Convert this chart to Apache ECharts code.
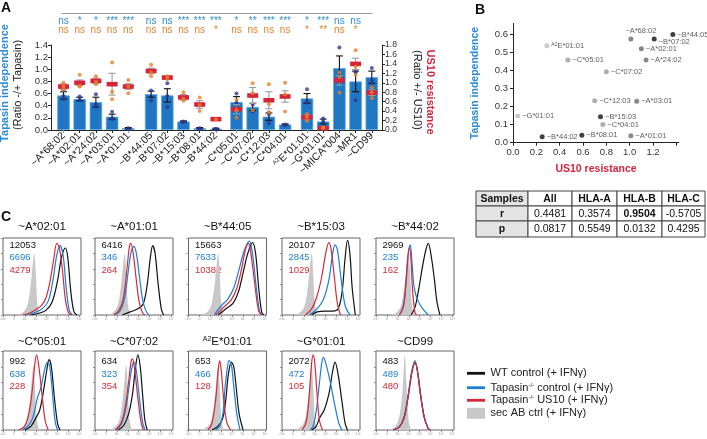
<!DOCTYPE html>
<html><head><meta charset="utf-8">
<script src="https://cdn.jsdelivr.net/npm/echarts@6/dist/echarts.min.js"></script>
<style>html,body{margin:0;padding:0;background:#fff}#c{width:707px;height:439px}</style>
</head><body><div id="c"></div>
<script>
// ---------------- DATA ----------------
// Panel A
const categories = ['~A*68:02','~A*02:01','~A*24:02','~A*03:01','~A*01:01',
  '~B*44:05','~B*07:02','~B*15:03','~B*08:01','~B*44:02',
  '~C*05:01','~C*07:02','~C*12:03','~C*04:01',
  'A2E*01:01','~G*01:01','~MICA*004','~MR1','~CD99'];
const groupSizes = [5,5,4,5];
const tapMean = [0.57,0.51,0.46,0.22,0.03, 0.59,0.57,0.14,0.03,0.02, 0.46,0.38,0.22,0.09, 0.52,0.14,1.02,0.80,0.87];
const tapSem  = [0.06,0.03,0.08,0.04,0.01, 0.05,0.11,0.01,0.01,0.01, 0.09,0.06,0.06,0.01, 0.08,0.04,0.20,0.17,0.10];
const tapPoints = [[0.66,0.51,0.56],[0.55,0.50],[0.59,0.38,0.42],[0.30,0.19,0.18],[0.03,0.02],
  [0.65,0.48],[0.77,0.38,0.56],[0.14,0.13],[0.03,0.02],[0.02,0.01],
  [0.60,0.45,0.35],[0.42,0.30],[0.29,0.11,0.26],[0.09,0.08],
  [0.67,0.47,0.45],[0.19,0.14],[1.36,0.88,0.80],[0.95,0.49,0.96],[1.02,0.77,0.82]];
const usMean = [0.92,1.00,1.04,0.97,0.92, 1.25,1.11,0.69,0.54,0.23, 0.44,0.73,0.63,0.71, 0.27,0.04,1.05,1.40,0.79];
const usSem  = [0.06,0.06,0.06,0.23,0.06, 0.06,0.04,0.06,0.08,0.02, 0.10,0.17,0.18,0.12, 0.05,0.03,0.10,0.12,0.06];
const usPoints = [[1.00,0.85,0.92],[1.17,0.92,0.93],[1.14,0.97,1.02],[1.43,0.81,0.65],[1.06,0.78,0.92],
  [1.38,1.14,1.22],[1.14,1.08],[0.80,0.62,0.66],[0.69,0.40,0.53],[0.23],
  [0.64,0.26,0.42],[0.99,0.42,0.78],[0.97,0.37,0.55],[1.00,0.39,0.75],
  [0.34,0.19,0.28],[0.04,0.05],[1.22,0.79,1.12],[1.69,1.17,1.34],[0.90,0.67,0.80]];
const sigTap = ['ns','*','*','***','***','ns','ns','***','***','***','*','**','***','***','*','***','ns','ns',''];
const sigUs  = ['ns','ns','ns','ns','ns','ns','ns','ns','ns','*','ns','ns','ns','ns','*','**','ns','*',''];
const yTicksLeft = [0,0.2,0.4,0.6,0.8,1.0,1.2,1.4];
const yTicksRight = [0,0.2,0.4,0.6,0.8,1.0,1.2,1.4,1.6,1.8];

// Panel B
const scNames = ['~A*68:02','~B*44:05','~B*07:02','~A*02:01','~A*24:02','A2E*01:01','~C*05:01','~C*07:02',
  '~C*12:03','~A*03:01','~G*01:01','~B*15:03','~C*04:01','~B*44:02','~B*08:01','~A*01:01'];
const scUS10 = [1.01,1.37,1.21,1.10,1.14,0.29,0.47,0.80,0.70,1.06,0.04,0.75,0.77,0.25,0.59,1.01];
const scTap  = [0.574,0.598,0.574,0.52,0.458,0.537,0.458,0.393,0.232,0.229,0.148,0.144,0.10,0.033,0.041,0.039];
const scLocus = ['A','B','B','A','A','EG','C','C','C','A','EG','B','C','B','B','A'];

// Correlation table
const tableHeader = ['Samples','All','HLA-A','HLA-B','HLA-C'];
const tableR = ['r','0.4481','0.3574','0.9504','-0.5705'];
const tableP = ['p','0.0817','0.5549','0.0132','0.4295'];

// Panel C
const histTitles = ['~A*02:01','~A*01:01','~B*44:05','~B*15:03','~B*44:02',
  '~C*05:01','~C*07:02','A2E*01:01','~G*01:01','~CD99'];
const histMFI = [[12053,6696,4279],[6416,346,264],[15663,7633,10382],[20107,2845,1029],[2969,235,162],
  [992,638,228],[634,323,354],[653,466,128],[2072,472,105],[483,489,480]];
const histLogLabels = ['-10\u00b2','0','10\u00b2','10\u00b3','10\u2074','10\u2075','10\u2076','10\u2077'];
const histSecAb = [
 [[18,0],[26,4],[31,12],[35,35],[38,65],[40,80],[42,55],[44,15],[47,0]],
 [[16,0],[24,4],[29,12],[33,35],[36,65],[38,80],[40,55],[42,15],[45,0]],
 [[16,0],[24,4],[29,12],[33,35],[36,65],[38,80],[40,55],[42,15],[45,0]],
 [[16,0],[24,4],[29,12],[33,35],[36,65],[38,80],[40,55],[42,15],[45,0]],
 [[20,0],[27,4],[32,12],[36,35],[39,60],[42,75],[44,50],[46,12],[49,0]],
 [[17,0],[25,4],[30,12],[34,35],[37,65],[39,82],[41,55],[43,15],[46,0]],
 [[18,0],[26,4],[31,12],[35,35],[38,65],[40,82],[42,55],[44,15],[47,0]],
 [[16,0],[24,4],[29,12],[33,35],[36,65],[38,82],[40,55],[42,15],[45,0]],
 [[16,0],[24,4],[29,12],[33,35],[36,65],[38,82],[40,55],[42,15],[45,0]],
 [[18,0],[25,5],[30,18],[34,50],[36,85],[37,95],[39,60],[42,10],[45,0]]];
const histTapUS10 = [
 [[25,0],[35,3],[45,9],[50,13],[55,22],[60,42],[65,72],[69,93],[72,88],[76,60],[80,20],[84,3],[88,0]],
 [[24,0],[30,5],[36,20],[41,60],[44,88],[46,93],[49,80],[53,45],[57,15],[61,3],[64,0]],
 [[35,0],[45,10],[55,20],[62,35],[68,60],[73,85],[77,93],[80,80],[85,40],[90,5],[94,0]],
 [[30,0],[38,8],[45,25],[51,50],[56,80],[60,94],[63,85],[67,50],[71,15],[75,0]],
 [[30,0],[35,10],[38,35],[41,75],[43,88],[45,70],[47,30],[50,3],[52,0]],
 [[20,0],[28,5],[34,25],[38,55],[41,85],[43,95],[46,80],[50,45],[54,12],[58,0]],
 [[26,0],[33,8],[38,25],[43,60],[46,85],[48,90],[51,75],[55,40],[59,10],[62,0]],
 [[25,0],[30,8],[35,40],[38,75],[40,88],[42,75],[45,40],[49,10],[54,0]],
 [[26,0],[31,10],[35,45],[38,85],[40,95],[42,85],[45,45],[48,12],[52,0]],
 [[22,0],[30,4],[36,15],[41,40],[46,72],[50,86],[53,75],[57,45],[62,15],[67,2],[70,0]]];
const histTapCtrl = [
 [[30,0],[40,3],[50,8],[58,18],[64,45],[69,78],[73,90],[77,78],[81,35],[85,6],[89,0]],
 [[25,0],[32,5],[38,22],[43,60],[47,85],[50,89],[53,80],[57,50],[61,20],[65,6],[69,0]],
 [[33,0],[42,12],[50,20],[58,35],[65,60],[72,85],[78,96],[82,80],[87,35],[91,5],[94,0]],
 [[35,0],[45,8],[53,20],[60,45],[65,80],[68,91],[71,85],[76,45],[81,12],[87,0]],
 [[30,0],[35,12],[38,38],[41,78],[44,91],[46,70],[49,35],[54,18],[60,8],[67,0]],
 [[25,0],[32,5],[38,15],[44,40],[49,55],[53,75],[57,86],[60,80],[64,40],[67,10],[70,0]],
 [[27,0],[34,8],[40,30],[45,65],[48,82],[50,86],[53,75],[57,40],[61,10],[64,0]],
 [[35,0],[40,5],[44,20],[47,55],[50,80],[52,88],[55,82],[58,55],[62,20],[66,0]],
 [[36,0],[40,5],[44,25],[48,60],[51,85],[53,92],[56,85],[62,60],[68,30],[73,8],[77,0]],
 [[22,0],[30,4],[36,15],[41,42],[46,75],[50,88],[53,75],[57,45],[62,15],[67,2],[70,0]]];
const histWT = [
 [[35,0],[45,2],[55,6],[63,17],[70,45],[75,75],[80,87],[83,75],[87,30],[91,4],[95,0]],
 [[35,0],[45,4],[55,8],[62,15],[67,40],[71,75],[74,90],[77,80],[81,40],[85,8],[88,0]],
 [[38,0],[48,8],[57,15],[64,30],[70,55],[76,80],[82,94],[86,80],[90,35],[94,3],[97,0]],
 [[38,0],[45,4],[55,5],[65,5],[72,8],[77,30],[81,75],[84,97],[87,80],[90,35],[94,0]],
 [[45,0],[50,10],[55,35],[60,65],[64,85],[67,93],[71,75],[75,45],[78,18],[82,0]],
 [[28,0],[36,5],[42,15],[47,25],[52,50],[56,75],[59,89],[62,80],[66,40],[70,8],[73,0]],
 [[30,0],[37,6],[43,20],[48,45],[52,80],[55,95],[58,80],[61,45],[64,12],[67,0]],
 [[30,0],[38,5],[44,15],[48,40],[51,70],[55,86],[58,80],[61,55],[65,20],[70,0]],
 [[38,0],[44,5],[48,15],[54,25],[60,45],[65,75],[68,86],[72,70],[77,35],[81,8],[84,0]],
 [[22,0],[30,4],[36,16],[41,42],[46,74],[50,85],[53,76],[57,46],[62,16],[67,2],[70,0]]];
const legendNames = ['WT control (+ IFN\u03b3)','Tapasin-/- control (+ IFN\u03b3)','Tapasin-/- US10 (+ IFN\u03b3)','sec AB ctrl (+ IFN\u03b3)'];

// ---------------- STYLE ----------------
const FONT = '"Liberation Sans", Arial, Helvetica, sans-serif';
const C_BAR = '#1f76c2', C_BAR_EDGE = '#5ea6e3', C_DOT_BLUE = '#2c3793', C_RED = '#d6253b',
      C_ORANGE = '#e5822c', C_SIGBLUE = '#2f8fd6', C_TEXTBLUE = '#2a8bd4', C_GREYERR = '#9b9b9b';
const C_WT = '#111111', C_CTRL = '#1c7ed6', C_US10 = '#d42a3c', C_SEC = '#c8c8c8';

const grids = [], xAxes = [], yAxes = [], series = [], elements = [];

function labelFmt(v) {
  if (v.indexOf('A2E') === 0) return '{sup|A2}{n|' + v.slice(2) + '}';
  return '{n|' + v + '}';
}

// ---- Panel A frame grid (index 0) ----
grids.push({left:51, top:45, width:331, height:85, outerBoundsMode:'none'});
xAxes.push({gridIndex:0, type:'value', min:0, max:1, axisLine:{show:true, lineStyle:{color:'#222', width:1}},
  axisTick:{show:false}, axisLabel:{show:false}, splitLine:{show:false}});
const axCommon = {axisLine:{show:true, lineStyle:{color:'#222', width:1}}, axisTick:{show:true, length:3, lineStyle:{color:'#222'}},
  splitLine:{show:false}};
yAxes.push(Object.assign({gridIndex:0, type:'value', min:yTicksLeft[0], max:yTicksLeft[yTicksLeft.length-1], interval:0.2, position:'left',
  axisLabel:{fontSize:9.5, color:'#333', margin:3, showMinLabel:true, showMaxLabel:true, hideOverlap:false, formatter:v=>v.toFixed(1)}}, axCommon));
yAxes.push(Object.assign({gridIndex:0, type:'value', min:yTicksRight[0], max:yTicksRight[yTicksRight.length-1], interval:0.2, position:'right',
  axisLabel:{fontSize:8.6, lineHeight:8, color:'#333', margin:3, showMinLabel:true, showMaxLabel:true, hideOverlap:false, formatter:v=>v.toFixed(1)}}, axCommon));

// ---- Panel A group grids ----
const groupLefts = [55.4, 143, 228.4, 298.9];
const slotW = 16.2;
function errRender(color, cap, withMarker) {
  return function(params, api) {
    const x = api.value(0), m = api.value(1), e = api.value(2);
    const p1 = api.coord([x, m + e]), p2 = api.coord([x, Math.max(0, m - e)]);
    const st = {stroke: color, lineWidth: 1.1};
    const ch = [
      {type:'line', shape:{x1:p1[0], y1:p1[1], x2:p2[0], y2:p2[1]}, style:st},
      {type:'line', shape:{x1:p1[0]-cap, y1:p1[1], x2:p1[0]+cap, y2:p1[1]}, style:st},
      {type:'line', shape:{x1:p2[0]-cap, y1:p2[1], x2:p2[0]+cap, y2:p2[1]}, style:st}];
    if (withMarker) {
      const c = api.coord([x, m]);
      ch.push({type:'rect', shape:{x:c[0]-5.5, y:c[1]-2.3, width:11, height:4.6}, style:{fill:C_RED}});
    }
    return {type:'group', children:ch};
  };
}
let start = 0;
groupSizes.forEach((n, g) => {
  const gi = g + 1;
  const cats = categories.slice(start, start + n);
  grids.push({left:groupLefts[g], top:45, width:slotW*n, height:85, outerBoundsMode:'none'});
  const xb = xAxes.length;
  xAxes.push({gridIndex:gi, type:'category', data:cats, position:'bottom',
    axisLine:{show:false}, axisTick:{show:true, alignWithLabel:true, length:3, lineStyle:{color:'#222'}},
    axisLabel:{interval:0, rotate:45, margin:4, formatter:labelFmt,
      rich:{n:{fontSize:10.5, color:'#222', fontFamily:FONT}, sup:{fontSize:6, color:'#222', verticalAlign:'top', fontFamily:FONT}}}});
  const s0 = start;
  xAxes.push({gridIndex:gi, type:'category', data:cats, position:'top', offset:32.3,
    axisLine:{show:false}, axisTick:{show:true, inside:true, alignWithLabel:true, length:3, lineStyle:{color:'#999'}},
    axisLabel:{show:false}});
  xAxes.push({gridIndex:gi, type:'category', data:cats, position:'top', offset:18.5,
    axisLine:{show:false}, axisTick:{show:false},
    axisLabel:{interval:0, margin:0, fontSize:10, color:C_SIGBLUE, formatter:(v,i)=>sigTap[s0+i]}});
  xAxes.push({gridIndex:gi, type:'category', data:cats, position:'top', offset:9.5,
    axisLine:{show:false}, axisTick:{show:false},
    axisLabel:{interval:0, margin:0, fontSize:10, color:C_ORANGE, formatter:(v,i)=>sigUs[s0+i]}});
  const yl = yAxes.length;
  yAxes.push({gridIndex:gi, type:'value', min:0, max:1.4, show:false});
  yAxes.push({gridIndex:gi, type:'value', min:0, max:1.8, show:false});
  series.push({type:'bar', xAxisIndex:xb, yAxisIndex:yl, barWidth:12.5, data:tapMean.slice(start, start+n),
    itemStyle:{color:C_BAR, borderColor:C_BAR_EDGE, borderWidth:0.8}, z:2});
  series.push({type:'custom', xAxisIndex:xb, yAxisIndex:yl, renderItem:errRender('#111', 3.5, false), encode:{x:0, y:1},
    data:cats.map((c,i)=>[i, tapMean[start+i], tapSem[start+i]]), z:3});
  const tp = []; cats.forEach((c,i)=>tapPoints[start+i].forEach(v=>tp.push([i, v])));
  series.push({type:'scatter', xAxisIndex:xb, yAxisIndex:yl, symbolSize:4, data:tp, itemStyle:{color:C_DOT_BLUE}, z:4});
  series.push({type:'custom', xAxisIndex:xb, yAxisIndex:yl+1, renderItem:errRender(C_GREYERR, 3.5, true), encode:{x:0, y:1},
    data:cats.map((c,i)=>[i, usMean[start+i], usSem[start+i]]), z:5});
  const up = []; cats.forEach((c,i)=>usPoints[start+i].forEach(v=>up.push([i, v])));
  series.push({type:'scatter', xAxisIndex:xb, yAxisIndex:yl+1, symbolSize:4, data:up, itemStyle:{color:C_ORANGE}, z:6});
  start += n;
});

// ---- bracket line grid (index 5) ----
grids.push({left:62, top:12.7, width:310, height:1, outerBoundsMode:'none'});
xAxes.push({gridIndex:5, type:'value', min:0, max:1, position:'top', axisLine:{show:true, lineStyle:{color:'#9a9a9a', width:1}},
  axisTick:{show:false}, axisLabel:{show:false}, splitLine:{show:false}});
yAxes.push({gridIndex:5, type:'value', show:false});

// ---- Panel B scatter grid (index 6) ----
grids.push({left:513, top:23.4, width:165.7, height:119.3, outerBoundsMode:'none'});
const bxi = xAxes.length;
xAxes.push({gridIndex:6, type:'value', min:0, max:1.42, interval:0.2,
  axisLine:{show:true, lineStyle:{color:'#222'}}, axisTick:{show:true, length:3, lineStyle:{color:'#222'}},
  axisLabel:{fontSize:9.5, color:'#333', margin:5, showMaxLabel:false, formatter:v=>v>1.3?'':v.toFixed(1)}, splitLine:{show:false}});
const byi = yAxes.length;
yAxes.push({gridIndex:6, type:'value', min:0, max:0.66, interval:0.1,
  axisLine:{show:true, lineStyle:{color:'#222'}}, axisTick:{show:true, length:3, lineStyle:{color:'#222'}},
  axisLabel:{fontSize:9.5, color:'#333', margin:5, showMaxLabel:false, formatter:v=>v>0.62?'':v.toFixed(1)}, splitLine:{show:false}});
const locusColor = {A:'#6c6c6c', B:'#111111', C:'#9a9a9a', EG:'#bdbdbd'};
const labelPlace = {'~A*68:02':{position:'top', distance:2, offset:[10,0]}, '~B*07:02':{position:'right', offset:[0,3]}};
series.push({type:'scatter', xAxisIndex:bxi, yAxisIndex:byi, symbolSize:5,
  data:scNames.map((nm,i)=>({value:[scUS10[i], scTap[i]], name:nm, itemStyle:{color:locusColor[scLocus[i]]},
    label:Object.assign({show:true, position:'right', distance:2}, labelPlace[nm]||{})})),
  label:{show:true, formatter:p=>labelFmt(p.name),
    rich:{n:{fontSize:7.5, color:'#333', fontFamily:FONT}, sup:{fontSize:5, color:'#333', verticalAlign:'top', fontFamily:FONT}}}});

// ---- Panel C histograms (index 7..16) ----
const hLefts = [3, 95, 188.5, 282, 376];
histTitles.forEach((t, k) => {
  const row = Math.floor(k/5), col = k%5;
  const gi = grids.length;
  const top = row ? 351 : 238, h = row ? 79 : 77;
  grids.push({left:hLefts[col], top:top, width:78, height:h, show:true, borderColor:'#666', borderWidth:1, outerBoundsMode:'none'});
  const xi = xAxes.length, yi = yAxes.length;
  xAxes.push({gridIndex:gi, type:'value', min:0, max:100, interval:14, axisLine:{show:false},
    axisTick:{show:true, length:2, lineStyle:{color:'#777', width:0.8}}, splitLine:{show:false},
    axisLabel:{fontSize:3.5, color:'#999', margin:2, showMaxLabel:false, formatter:v=>v>99?'':histLogLabels[Math.round(v/14)]}});
  yAxes.push({gridIndex:gi, type:'value', min:0, max:100, interval:20, axisLine:{show:false},
    axisTick:{show:true, length:2, lineStyle:{color:'#777', width:0.8}}, axisLabel:{show:false}, splitLine:{show:false}});
  const common = {type:'line', xAxisIndex:xi, yAxisIndex:yi, symbol:'none', smooth:0.35, silent:true};
  series.push(Object.assign({}, common, {name:legendNames[3], data:histSecAb[k], lineStyle:{width:0}, areaStyle:{color:C_SEC, opacity:1}}));
  series.push(Object.assign({}, common, {name:legendNames[0], data:histWT[k], lineStyle:{width:1.2, color:C_WT}}));
  series.push(Object.assign({}, common, {name:legendNames[1], data:histTapCtrl[k], lineStyle:{width:1.2, color:C_CTRL}}));
  series.push(Object.assign({}, common, {name:legendNames[2], data:histTapUS10[k], lineStyle:{width:1.2, color:C_US10}}));
  // title & MFI numbers
  const cx = hLefts[col] + 39;
  elements.push({type:'text', x:cx, y: row ? 341.5 : 227, style:{text: labelFmt(t), align:'center', verticalAlign:'middle',
    textAlign:'center', textVerticalAlign:'middle',
    rich:{n:{fontSize:11.5, fill:'#111', fontFamily:FONT}, sup:{fontSize:7, fill:'#111', verticalAlign:'top', fontFamily:FONT}}}});
  const nc = [C_WT, C_CTRL, C_US10];
  histMFI[k].forEach((v, j) => {
    elements.push({type:'text', x:hLefts[col]+6.5, y:(row ? 361.7 : 245) + j*12.5,
      style:{text:String(v), fontSize:9.5, fontFamily:FONT, fill:nc[j], verticalAlign:'middle', textVerticalAlign:'middle'}});
  });
});

// ---- graphic texts ----
elements.push({type:'text', x:1, y:1, style:{text:'A', fontSize:14, fontWeight:'bold', fontFamily:FONT, fill:'#111'}});
elements.push({type:'text', x:475, y:3, style:{text:'B', fontSize:14, fontWeight:'bold', fontFamily:FONT, fill:'#111'}});
elements.push({type:'text', x:1, y:210, style:{text:'C', fontSize:14, fontWeight:'bold', fontFamily:FONT, fill:'#111'}});
function vtext(txt, x, y, rot, color, bold, size) {
  elements.push({type:'text', x:x, y:y, rotation:rot, style:{text:txt, fontSize:size, fontWeight:bold?'bold':'normal', fontFamily:FONT,
    fill:color, align:'center', verticalAlign:'middle', textAlign:'center', textVerticalAlign:'middle'}});
}
vtext('Tapasin independence', 5, 83, Math.PI/2, C_TEXTBLUE, true, 11);
vtext('(Ratio -/+ Tapasin)', 18, 85, Math.PI/2, '#222', false, 11);
vtext('US10 resistance', 430, 92, -Math.PI/2, C_RED, true, 11);
vtext('(Ratio +/- US10)', 417, 90, -Math.PI/2, '#222', false, 11);
vtext('Tapasin independence', 475, 83, Math.PI/2, C_TEXTBLUE, true, 10.5);
vtext('US10 resistance', 596, 169, 0, C_RED, true, 10.5);

// ---- table ----
const colX = [476,528,572,617,662,705], rowY = [191,206,221,237];
[tableHeader, tableR, tableP].forEach((row, r) => {
  row.forEach((txt, c) => {
    elements.push({type:'rect', shape:{x:colX[c], y:rowY[r], width:colX[c+1]-colX[c], height:rowY[r+1]-rowY[r]},
      style:{fill: c===0 ? '#e4e4e4' : '#ffffff', stroke:'#444', lineWidth:1}});
    const bold = r===0 || c===0 || txt==='0.9504';
    elements.push({type:'text', x:(colX[c]+colX[c+1])/2, y:(rowY[r]+rowY[r+1])/2+0.5,
      style:{text:txt, fontSize:10.5, fontWeight:bold?'bold':'normal', fontFamily:FONT, fill:'#111',
        align:'center', verticalAlign:'middle', textAlign:'center', textVerticalAlign:'middle'}});
  });
});

// ---- legend ----
const legY = [373.3, 387.7, 400.3, 413.3];
const legCol = [C_WT, C_CTRL, C_US10];
legendNames.forEach((nm, i) => {
  if (i < 3) elements.push({type:'rect', shape:{x:467, y:legY[i]-1.4, width:18, height:2.8}, style:{fill:legCol[i]}});
  else elements.push({type:'rect', shape:{x:467, y:legY[i]-5.5, width:18, height:11}, style:{fill:C_SEC}});
  const parts = nm.split('-/-');
  const txt = parts.length > 1 ? '{n|' + parts[0] + '}{sup|-/-}{n|' + parts[1] + '}' : '{n|' + nm + '}';
  elements.push({type:'text', x:490.5, y:legY[i], style:{text:txt, verticalAlign:'middle', textVerticalAlign:'middle',
    rich:{n:{fontSize:11, fill:'#222', fontFamily:FONT}, sup:{fontSize:6, fill:'#222', verticalAlign:'top', fontFamily:FONT}}}});
});

const chart = echarts.init(document.getElementById('c'), null, {renderer:'canvas', width:707, height:439});
chart.setOption({animation:false, textStyle:{fontFamily:FONT}, grid:grids, xAxis:xAxes, yAxis:yAxes, series:series,
  graphic:{elements:elements}});
</script></body></html>
